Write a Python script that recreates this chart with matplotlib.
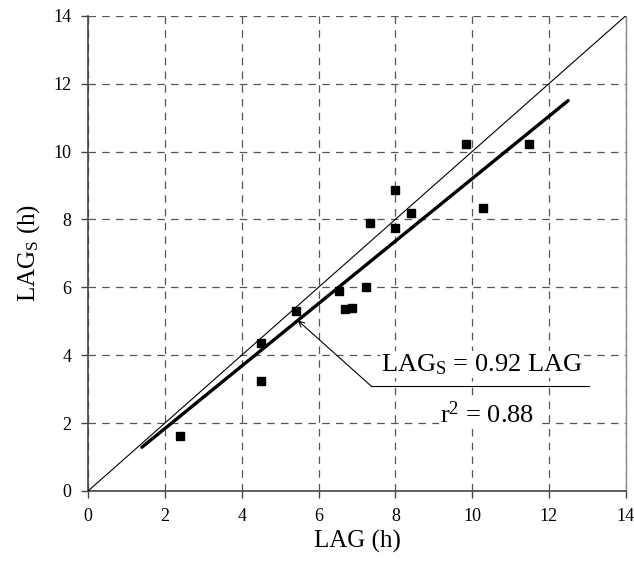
import numpy as np
import matplotlib
matplotlib.use('Agg')
from matplotlib import pyplot as plt

# observed lag vs. simulated lag (h)
lag = [2.4, 4.5, 4.5, 5.42, 6.52, 6.7, 6.88, 7.24, 7.34, 7.98, 7.98, 8.4, 9.84, 10.28, 11.49]
lag_s = [1.63, 4.37, 3.25, 5.3, 5.89, 5.36, 5.39, 6.0, 7.88, 7.74, 8.86, 8.18, 10.21, 8.35, 10.21]

slope = 0.92
fit_x = [1.4, 12.5]
one_to_one = [0, 14]
ticks = [0, 2, 4, 6, 8, 10, 12, 14]

plt.rcParams['font.family'] = ['Liberation Serif', 'DejaVu Serif']
plt.rcParams['mathtext.fontset'] = 'custom'
plt.rcParams['mathtext.rm'] = 'Liberation Serif'
plt.rcParams['mathtext.it'] = 'Liberation Serif:italic'

fig = plt.figure(figsize=(6.34, 5.63), dpi=100, facecolor='w')
ax = fig.add_axes([0.139, 0.128, 0.848, 0.844])

ax.plot(one_to_one, one_to_one, color='k', lw=0.8, zorder=3)
fx = np.array(fit_x)
ax.plot(fx, slope * fx, color='k', lw=2.4, solid_capstyle='round', zorder=3)
ax.plot(lag, lag_s, 's', color='k', ms=6, zorder=4)

ax.set_xlim(0, 14)
ax.set_ylim(0, 14)
ax.set_xticks(ticks)
ax.set_yticks(ticks)
ax.tick_params(labelsize=13, direction='out', length=5, width=1, color='#444444', pad=7)
ax.grid(True, linestyle=(0, (6, 5)), color='#555555', lw=0.9)
ax.set_axisbelow(True)
ax.spines['top'].set_visible(False)
ax.spines['right'].set_color('#888888')
ax.spines['right'].set_linewidth(1.0)
for s in ['left', 'bottom']:
    ax.spines[s].set_color('#444444')
    ax.spines[s].set_linewidth(1.2)

ax.set_xlabel('LAG (h)', fontsize=18, labelpad=4)
ax.set_ylabel(r'LAG$_\mathrm{S}$ (h)', fontsize=18, labelpad=8)

# annotation for regression line
ax.annotate('', xy=(5.46, slope * 5.46), xytext=(7.37, 3.09),
            arrowprops=dict(arrowstyle='->', color='k', lw=0.8, shrinkA=0, shrinkB=0))
ax.plot([7.37, 13.05], [3.09, 3.09], color='k', lw=0.8, zorder=3)
ax.text(10.26, 3.72, r'LAG$_\mathrm{S}$ = 0.92 LAG', fontsize=19, ha='center', va='center',
        bbox=dict(facecolor='w', edgecolor='none', pad=1), zorder=5)
ax.text(10.4, 2.25, r'r$^2$ = 0.88', fontsize=19, ha='center', va='center',
        bbox=dict(facecolor='w', edgecolor='none', pad=1), zorder=5)

fig.savefig('out.png', dpi=100)
